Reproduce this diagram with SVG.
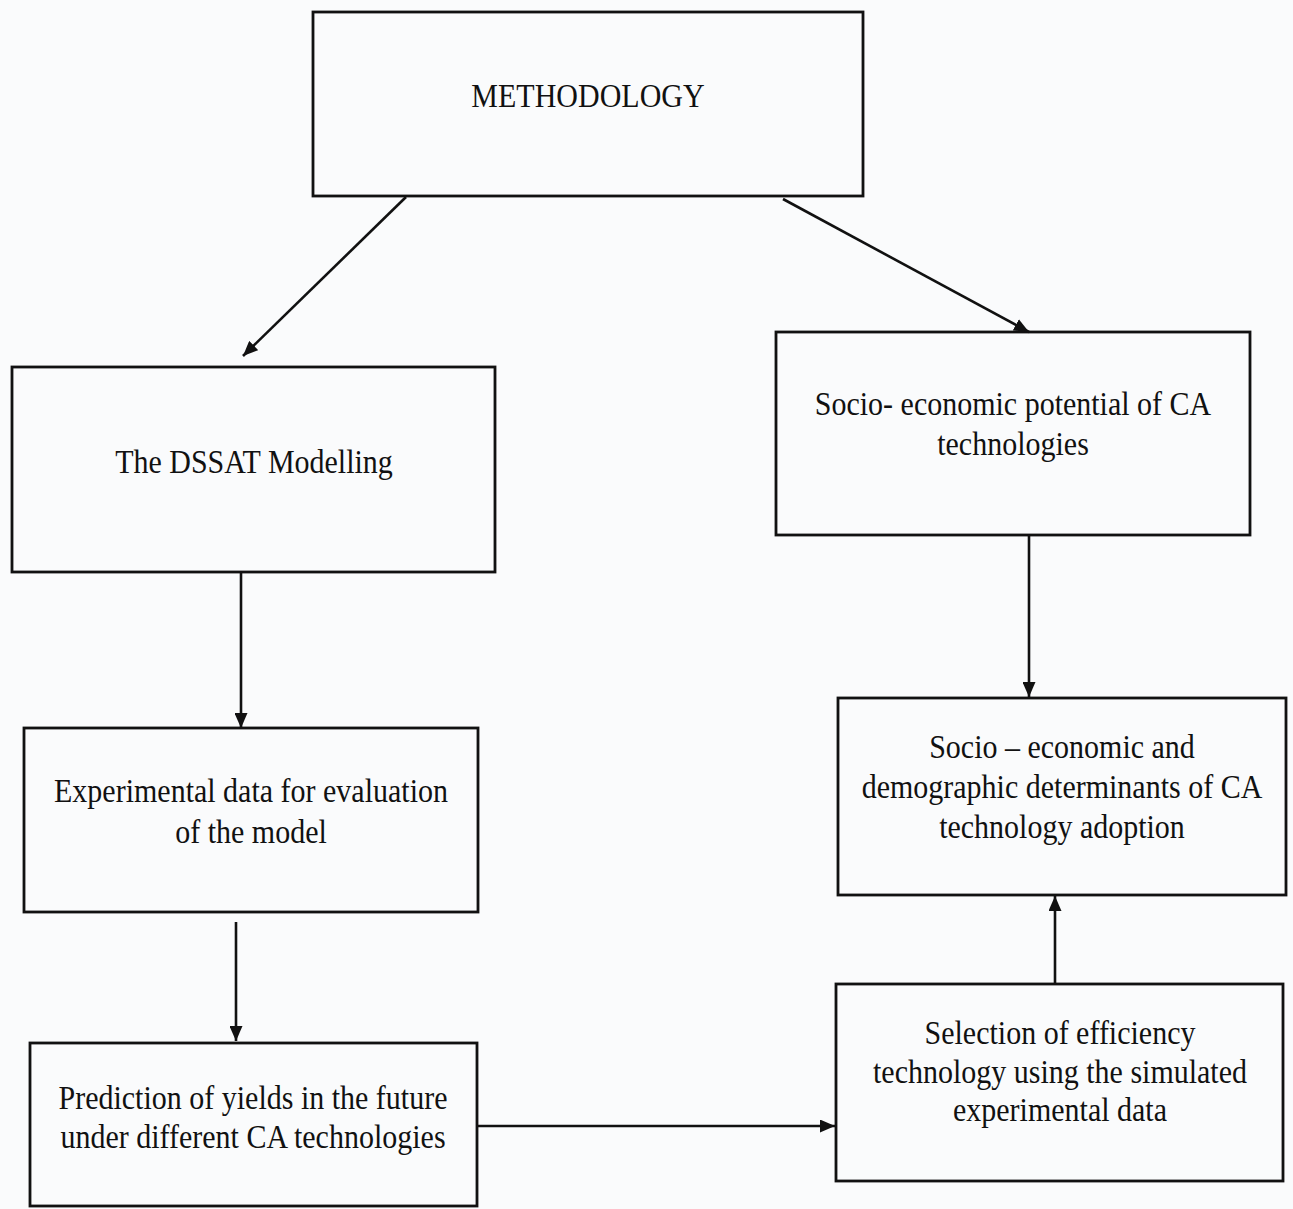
<svg xmlns="http://www.w3.org/2000/svg" width="1293" height="1209" viewBox="0 0 1293 1209">
<style>
.box{fill:none;stroke:#111;stroke-width:2.8}
.lbl{font-family:"Liberation Serif","Times New Roman",serif;font-size:30px;fill:#111;text-anchor:middle}
.conn{stroke:#111;stroke-width:2.6;fill:none;marker-end:url(#arr)}
</style>
<defs>
<marker id="arr" markerUnits="userSpaceOnUse" markerWidth="15" markerHeight="13" refX="15" refY="6.5" orient="auto">
<path d="M0,0 L15,6.5 L0,13 z" fill="#111"/>
</marker>
</defs>
<rect x="0" y="0" width="1293" height="1209" fill="#fafbfc"/>
<g id="methodology">
<rect class="box" x="313" y="12" width="550" height="184"/>
<text class="lbl" transform="translate(588 107) scale(1 1.12)">METHODOLOGY</text>
</g>
<g id="dssat">
<rect class="box" x="12" y="367" width="483" height="205"/>
<text class="lbl" transform="translate(254 473) scale(1 1.12)">The DSSAT Modelling</text>
</g>
<g id="socio-potential">
<rect class="box" x="776" y="332" width="474" height="203"/>
<text class="lbl" transform="translate(1013 415) scale(1 1.12)">Socio- economic potential of CA</text>
<text class="lbl" transform="translate(1013 455) scale(1 1.12)">technologies</text>
</g>
<g id="experimental">
<rect class="box" x="24" y="728" width="454" height="184"/>
<text class="lbl" transform="translate(251 802) scale(1 1.12)">Experimental data for evaluation</text>
<text class="lbl" transform="translate(251 843) scale(1 1.12)">of the model</text>
</g>
<g id="determinants">
<rect class="box" x="838" y="698" width="448" height="197"/>
<text class="lbl" transform="translate(1062 758) scale(1 1.12)">Socio – economic and</text>
<text class="lbl" transform="translate(1062 798) scale(1 1.12)">demographic determinants of CA</text>
<text class="lbl" transform="translate(1062 838) scale(1 1.12)">technology adoption</text>
</g>
<g id="prediction">
<rect class="box" x="30" y="1043" width="447" height="163"/>
<text class="lbl" transform="translate(253 1109) scale(1 1.12)">Prediction of yields in the future</text>
<text class="lbl" transform="translate(253 1148) scale(1 1.12)">under different CA technologies</text>
</g>
<g id="selection">
<rect class="box" x="836" y="984" width="447" height="197"/>
<text class="lbl" transform="translate(1060 1044) scale(1 1.12)">Selection of efficiency</text>
<text class="lbl" transform="translate(1060 1083) scale(1 1.12)">technology using the simulated</text>
<text class="lbl" transform="translate(1060 1121) scale(1 1.12)">experimental data</text>
</g>
<g id="connectors">
<line class="conn" x1="406" y1="197" x2="243" y2="356"/>
<line class="conn" x1="783" y1="199" x2="1029" y2="332"/>
<line class="conn" x1="241" y1="572" x2="241" y2="728"/>
<line class="conn" x1="236" y1="922" x2="236" y2="1041"/>
<line class="conn" x1="1029" y1="535" x2="1029" y2="697"/>
<line class="conn" x1="477" y1="1126" x2="835" y2="1126"/>
<line class="conn" x1="1055" y1="984" x2="1055" y2="896"/>
</g>
</svg>
